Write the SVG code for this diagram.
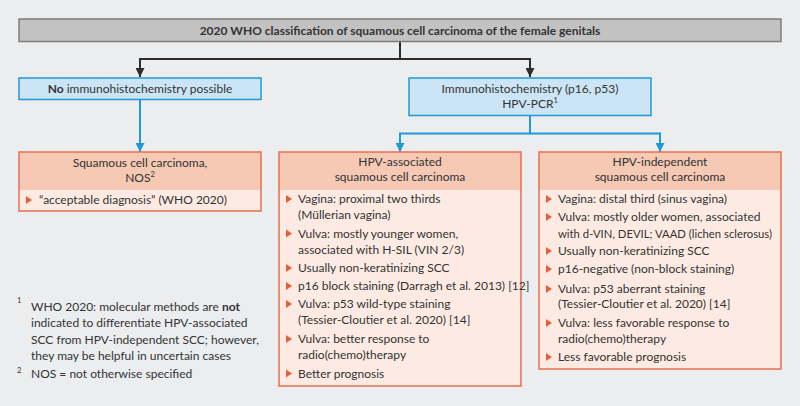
<svg xmlns="http://www.w3.org/2000/svg" width="800" height="406" viewBox="0 0 800 406">
<defs>
<style>
.t{font-family:Lato,"Liberation Sans",sans-serif;font-size:12px;fill:#333333}
.c{text-anchor:middle}
.b{font-weight:bold}
.sup{font-size:7.5px}
.gray{fill:#c2c2c3;stroke:#7d7d7d;stroke-width:1.5}
.blue{fill:#cce5f6;stroke:#1f9ad6;stroke-width:1.5}
.obody{fill:#fdebe3}
.ohead{fill:#f5c9b4}
.oframe{fill:none;stroke:#e2714f;stroke-width:1.5}
.kline{fill:none;stroke:#2d2d2d;stroke-width:2}
.bline{fill:none;stroke:#1f9ad6;stroke-width:2}
.tri{fill:#e2603a}
</style>
<marker id="ak" viewBox="0 0 10 10" refX="10" refY="5" markerWidth="9" markerHeight="9" markerUnits="userSpaceOnUse" orient="auto"><path d="M0,0 L10,5 L0,10 Z" fill="#2d2d2d"/></marker>
<marker id="ab" viewBox="0 0 10 10" refX="10" refY="5" markerWidth="9" markerHeight="9" markerUnits="userSpaceOnUse" orient="auto"><path d="M0,0 L10,5 L0,10 Z" fill="#1f9ad6"/></marker>
<polygon id="bt" class="tri" points="0,-4 6,0 0,4"/>
</defs>
<rect x="0" y="0" width="800" height="406" fill="#ecedef"/>

<g id="connectors">
<path class="kline" d="M400,42 V59 H140 V77" marker-end="url(#ak)"/>
<path class="kline" d="M400,59 H530 V77" marker-end="url(#ak)"/>
<path class="bline" d="M140,99.5 V152" marker-end="url(#ab)"/>
<path class="bline" d="M530,115.5 V133.5 H400 V152" marker-end="url(#ab)"/>
<path class="bline" d="M530,133.5 H660 V152" marker-end="url(#ab)"/>
</g>

<g id="title">
<rect class="gray" x="19" y="19" width="762" height="22.5"/>
<text class="t c b" x="400" y="34.5" font-size="12.5">2020 WHO classification of squamous cell carcinoma of the female genitals</text>
</g>

<g id="no-ihc">
<rect class="blue" x="19" y="78" width="242" height="21.5"/>
<text class="t c" x="140" y="93"><tspan class="b">No</tspan> immunohistochemistry possible</text>
</g>

<g id="ihc">
<rect class="blue" x="409" y="78" width="242" height="37.5"/>
<text class="t c" x="530" y="93">Immunohistochemistry (p16, p53)</text>
<text class="t c" x="530" y="108">HPV-PCR<tspan class="sup" dy="-5">1</tspan></text>
</g>

<g id="scc-nos">
<rect class="obody" x="19" y="152" width="242" height="59"/>
<rect class="ohead" x="19" y="152" width="242" height="38"/>
<rect class="oframe" x="19" y="152" width="242" height="59"/>
<text class="t c" x="140" y="166.5">Squamous cell carcinoma,</text>
<text class="t c" x="140" y="182">NOS<tspan class="sup" dy="-5">2</tspan></text>
<use href="#bt" x="26" y="200"/>
<text class="t" x="39" y="204">“acceptable diagnosis” (WHO 2020)</text>
</g>

<g id="hpv-associated">
<rect class="obody" x="279" y="152" width="242" height="234"/>
<rect class="ohead" x="279" y="152" width="242" height="38"/>
<rect class="oframe" x="279" y="152" width="242" height="234"/>
<text class="t c" x="400" y="165.5">HPV-associated</text>
<text class="t c" x="400" y="181">squamous cell carcinoma</text>
<use href="#bt" x="286" y="199"/>
<text class="t" x="298" y="203">Vagina: proximal two thirds</text>
<text class="t" x="298" y="218.5">(Müllerian vagina)</text>
<use href="#bt" x="286" y="233.5"/>
<text class="t" x="298" y="237.5">Vulva: mostly younger women,</text>
<text class="t" x="298" y="253.5">associated with H-SIL (VIN 2/3)</text>
<use href="#bt" x="286" y="268"/>
<text class="t" x="298" y="272">Usually non-keratinizing SCC</text>
<use href="#bt" x="286" y="286"/>
<text class="t" x="298" y="290">p16 block staining (Darragh et al. 2013) [12]</text>
<use href="#bt" x="286" y="304"/>
<text class="t" x="298" y="308">Vulva: p53 wild-type staining</text>
<text class="t" x="298" y="324">(Tessier-Cloutier et al. 2020) [14]</text>
<use href="#bt" x="286" y="339"/>
<text class="t" x="298" y="343">Vulva: better response to</text>
<text class="t" x="298" y="358.5">radio(chemo)therapy</text>
<use href="#bt" x="286" y="373.5"/>
<text class="t" x="298" y="377.5">Better prognosis</text>
</g>

<g id="hpv-independent">
<rect class="obody" x="539" y="152" width="242" height="217"/>
<rect class="ohead" x="539" y="152" width="242" height="38"/>
<rect class="oframe" x="539" y="152" width="242" height="217"/>
<text class="t c" x="660" y="165.5">HPV-independent</text>
<text class="t c" x="660" y="181">squamous cell carcinoma</text>
<use href="#bt" x="546" y="199"/>
<text class="t" x="558" y="203">Vagina: distal third (sinus vagina)</text>
<use href="#bt" x="546" y="217"/>
<text class="t" x="558" y="221">Vulva: mostly older women, associated</text>
<text class="t" x="558" y="237.5" textLength="214" lengthAdjust="spacingAndGlyphs">with d-VIN, DEVIL; VAAD (lichen sclerosus)</text>
<use href="#bt" x="546" y="251"/>
<text class="t" x="558" y="255">Usually non-keratinizing SCC</text>
<use href="#bt" x="546" y="269"/>
<text class="t" x="558" y="273">p16-negative (non-block staining)</text>
<use href="#bt" x="546" y="289"/>
<text class="t" x="558" y="293">Vulva: p53 aberrant staining</text>
<text class="t" x="558" y="308">(Tessier-Cloutier et al. 2020) [14]</text>
<use href="#bt" x="546" y="323"/>
<text class="t" x="558" y="327">Vulva: less favorable response to</text>
<text class="t" x="558" y="343">radio(chemo)therapy</text>
<use href="#bt" x="546" y="357"/>
<text class="t" x="558" y="361">Less favorable prognosis</text>
</g>

<g id="footnotes">
<text class="t sup" x="17" y="303">1</text>
<text class="t" x="31" y="311">WHO 2020: molecular methods are <tspan class="b">not</tspan></text>
<text class="t" x="31" y="327">indicated to differentiate HPV-associated</text>
<text class="t" x="31" y="344">SCC from HPV-independent SCC; however,</text>
<text class="t" x="31" y="359.5">they may be helpful in uncertain cases</text>
<text class="t sup" x="17" y="373">2</text>
<text class="t" x="31" y="377.5">NOS = not otherwise specified</text>
</g>
</svg>
